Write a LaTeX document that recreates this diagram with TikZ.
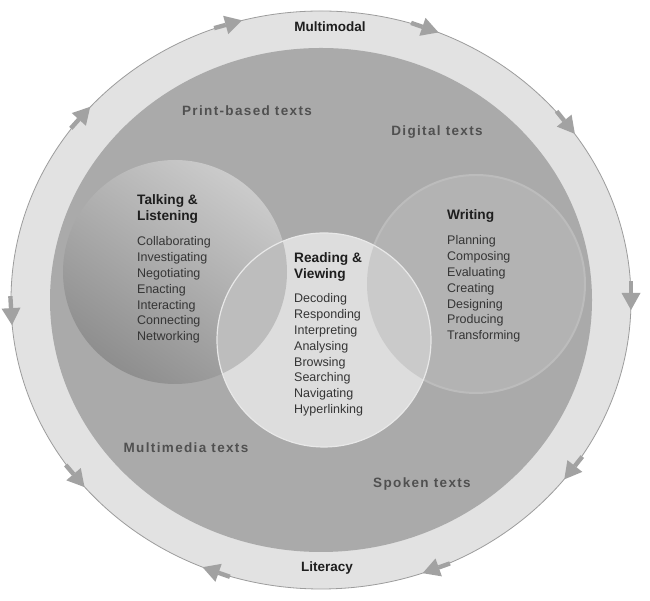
\documentclass[tikz,border=0pt]{standalone}
\usepackage{fontspec}
\setmainfont{Liberation Sans}
\definecolor{ringfill}{HTML}{E2E2E2}
\definecolor{ringline}{HTML}{9C9C9C}
\definecolor{discfill}{HTML}{AAAAAA}
\definecolor{tltop}{HTML}{CBCBCB}
\definecolor{tlbot}{HTML}{8E8E8E}
\definecolor{wrfill}{HTML}{B3B3B3}
\definecolor{wredge}{HTML}{BCBCBC}
\definecolor{rvfill}{HTML}{DDDDDD}
\definecolor{rvedge}{HTML}{E8E8E8}
\definecolor{lensl}{HTML}{BDBDBD}
\definecolor{lensr}{HTML}{CACACA}
\definecolor{arrowgray}{HTML}{A2A2A2}
\definecolor{titlecol}{HTML}{1E1E1E}
\definecolor{itemcol}{HTML}{353535}
\definecolor{labelcol}{HTML}{505050}
\newcommand\linestack[1]{\vtop{\halign{##\hfil\cr #1\crcr}}}
\tikzset{
  titletext/.style={anchor=base west, text=titlecol, inner sep=0pt,
    font=\fontsize{13.7}{16}\selectfont\bfseries},
  itemtext/.style={anchor=base west, text=itemcol, inner sep=0pt,
    font=\fontsize{12.5}{15.8}\selectfont},
  zonetext/.style={anchor=center, text=labelcol, inner sep=0pt,
    font=\fontsize{13.5}{16}\selectfont\bfseries\addfontfeatures{LetterSpace=10}},
  ringtext/.style={anchor=center, text=titlecol, inner sep=0pt,
    font=\fontsize{13.5}{16}\selectfont\bfseries},
  ringarrow/.style={fill=arrowgray}
}
\begin{document}
\begin{tikzpicture}[x=1pt,y=1pt]
\useasboundingbox (0,0) rectangle (650,601);
\fill[white] (0,0) rectangle (650,601);
% outer ring
\fill[ringfill, draw=ringline, line width=0.8pt] (321,301) ellipse [x radius=310, y radius=289];
% inner disc
\fill[discfill] (321,301) ellipse [x radius=271, y radius=252];
% Talking & Listening circle
\shade[top color=tltop, bottom color=tlbot, shading angle=-35] (175,329) circle [radius=112];
% Writing circle
\fill[wrfill, draw=wredge, line width=2pt] (476,317) circle [radius=109];
% Reading & Viewing circle
\fill[rvfill] (324,261) circle [radius=107];
\begin{scope}
  \clip (324,261) circle [radius=107];
  \fill[lensl] (175,329) circle [radius=112];
  \fill[lensr] (476,317) circle [radius=109];
\end{scope}
\draw[rvedge, line width=1.2pt] (324,261) circle [radius=107];
% arrows on the ring
\foreach \p/\d in {106.6/1, 69.6/1, 37/1, 0/1, -36.4/1, -69/1, -110.6/1, -141.6/-1, -177/-1, 140/1} {
  \pgfmathsetmacro\ang{atan2(-289*cos(\p)*\d, 310*sin(\p)*\d)}
  \pgfmathsetmacro\px{321+310*cos(\p)}
  \pgfmathsetmacro\py{301+289*sin(\p)}
  \begin{scope}[shift={(\px,\py)}, rotate=\ang]
    \fill[ringarrow] (10,0) -- (-7,9.5) -- (-7,-9.5) -- cycle;
    \fill[ringarrow] (-7,-2.2) rectangle (-19,2.2);
  \end{scope}
}
% ring labels
\node[ringtext] (multimodal) at (330,574) {Multimodal};
\node[ringtext] (literacy) at (327,33) {Literacy};
% zone labels
\node[zonetext] (print) at (247,490) {Print-based texts};
\node[zonetext] (digital) at (437,469) {Digital texts};
\node[zonetext] (multimedia) at (186,153) {Multimedia texts};
\node[zonetext] (spoken) at (422,117) {Spoken texts};
% Talking & Listening
\node[titletext] (tltitle) at (137,396) {\linestack{Talking \&\cr Listening}};
\node[itemtext] (tlitems) at (137,355) {\linestack{Collaborating\cr Investigating\cr Negotiating\cr Enacting\cr Interacting\cr Connecting\cr Networking}};
% Reading & Viewing
\node[titletext] (rvtitle) at (294,338) {\linestack{Reading \&\cr Viewing}};
\node[itemtext] (rvitems) at (294,298) {\linestack{Decoding\cr Responding\cr Interpreting\cr Analysing\cr Browsing\cr Searching\cr Navigating\cr Hyperlinking}};
% Writing
\node[titletext] (wrtitle) at (447,381) {Writing};
\node[itemtext] (writems) at (447,356) {\linestack{Planning\cr Composing\cr Evaluating\cr Creating\cr Designing\cr Producing\cr Transforming}};
\end{tikzpicture}
\end{document}
